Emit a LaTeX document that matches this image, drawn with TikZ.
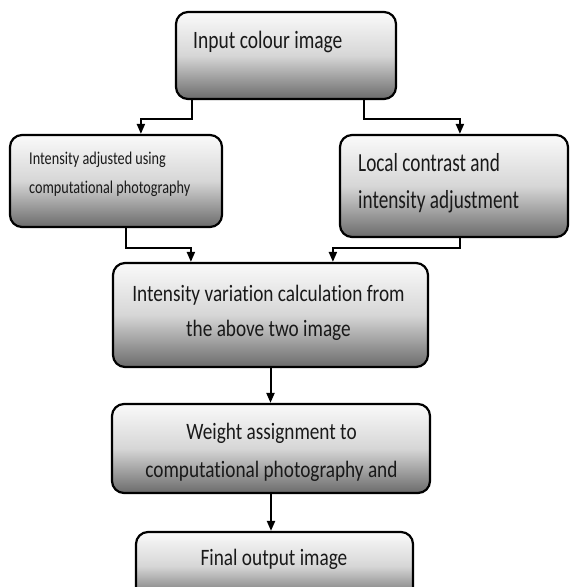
\documentclass[tikz,border=0pt]{standalone}
\usepackage{fontspec}
\setmainfont{Carlito}[Ligatures=NoCommon]
\newfontfamily\fa[FakeStretch=0.78,Ligatures=NoCommon]{Carlito}
\newfontfamily\fb[FakeStretch=0.79,Ligatures=NoCommon]{Carlito}
\newfontfamily\fc[FakeStretch=0.74,Ligatures=NoCommon]{Carlito}
\newfontfamily\fd[FakeStretch=0.82,Ligatures=NoCommon]{Carlito}
\usetikzlibrary{arrows.meta}
\begin{document}
\begin{tikzpicture}[x=1pt,y=-1pt,
  box/.style={draw=black, line width=2.2pt, rounded corners=12pt,
    top color=black!2, bottom color=black!58, middle color=black!16,
    inner sep=0pt},
  lbl/.style={inner sep=0pt, text=black!90, align=left},
  clbl/.style={inner sep=0pt, text=black!90, align=center},
  conn/.style={line width=2pt, draw=black, -{Triangle[length=10pt,width=8pt]}}]
\useasboundingbox (0,0) rectangle (570,587);
\clip (0,0) rectangle (570,587);
\node[box, minimum width=220pt, minimum height=87pt] (b1) at (286,55.5) {};
\node[box, minimum width=212pt, minimum height=92pt] (b2) at (116,181) {};
\node[box, minimum width=228pt, minimum height=102pt] (b3) at (454,186) {};
\node[box, minimum width=315pt, minimum height=104pt] (b4) at (270.5,315) {};
\node[box, minimum width=318pt, minimum height=89pt] (b5) at (271,448.5) {};
\node[box, minimum width=277pt, minimum height=68pt] (b6) at (274.5,566) {};
\node[lbl, anchor=west, font={\fa\fontsize{25pt}{30pt}\selectfont}] (t1) at (193,42) {Input colour image};
\node[lbl, anchor=west, font={\fb\fontsize{18pt}{29pt}\selectfont}] (t2) at (29,174) {Intensity adjusted using\\computational photography};
\node[lbl, anchor=west, font={\fc\fontsize{26pt}{37pt}\selectfont}] (t3) at (358,183.5) {Local contrast and\\intensity adjustment};
\node[clbl, font={\fd\fontsize{23.5pt}{35pt}\selectfont}] (t4) at (268.5,312.5) {Intensity variation calculation from\\the above two image};
\node[clbl, font={\fd\fontsize{23.5pt}{38pt}\selectfont}] (t5) at (271.5,452) {Weight assignment to\\computational photography and};
\node[clbl, font={\fd\fontsize{23.5pt}{30pt}\selectfont}] (t6) at (274,559) {Final output image};
\draw[conn] ([xshift=17pt]b1.south west) -- ++(0,19) -| ([xshift=132pt]b2.north west);
\draw[conn] ([xshift=189pt]b1.south west) -- ++(0,19) -| ([xshift=121pt]b3.north west);
\draw[conn] ([xshift=117pt]b2.south west) -- ++(0,20) -| ([xshift=79pt]b4.north west);
\draw[conn] ([xshift=121pt]b3.south west) -- ++(0,10) -| ([xshift=221pt]b4.north west);
\draw[conn] (b4.south) -- (b4.south |- b5.north);
\draw[conn] (b5.south) -- (b5.south |- b6.north);
\end{tikzpicture}
\end{document}
